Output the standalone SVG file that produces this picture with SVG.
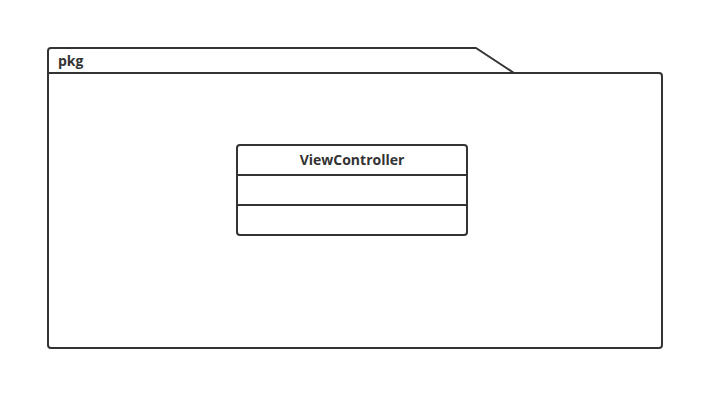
<svg xmlns="http://www.w3.org/2000/svg" width="724" height="410" viewBox="0 0 724 410">
<style>
.ln{fill:none;stroke:#333;stroke-width:2;stroke-linejoin:round}
.t{font-family:"Open Sans","Liberation Sans",sans-serif;font-weight:bold;font-size:14px;fill:#333}
</style>
<rect width="724" height="410" fill="#fff"/>
<g id="pkg">
<path class="ln" d="M48,73 L48,51 Q48,48 51,48 L476,48 L514,73"/>
<path class="ln" d="M48,73 L659,73 Q662,73 662,76 L662,345 Q662,348 659,348 L51,348 Q48,348 48,345 Z"/>
<text class="t" x="58" y="66">pkg</text>
</g>
<g id="ViewController">
<rect class="ln" x="237" y="145" width="230" height="90" rx="3"/>
<line class="ln" x1="237" y1="175" x2="467" y2="175"/>
<line class="ln" x1="237" y1="205" x2="467" y2="205"/>
<text class="t" x="352" y="165" text-anchor="middle">ViewController</text>
</g>
<g id="connectors"/>
</svg>
